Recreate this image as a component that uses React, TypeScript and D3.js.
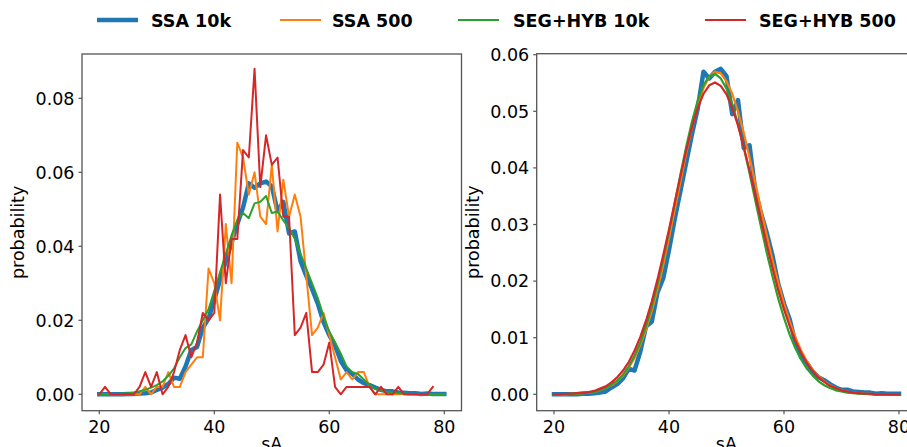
import React from 'react';
import * as d3 from 'd3';

const sA: number[] = d3.range(20, 81);

const ssa10k = [
  0.0000, 0.0000, 0.0000, 0.0000, 0.0000, 0.0001, 0.0001, 0.0002, 0.0003, 0.0005,
  0.0012, 0.0018, 0.0028, 0.0045, 0.0042, 0.0075, 0.0120, 0.0128, 0.0180, 0.0205,
  0.0255, 0.0310, 0.0360, 0.0410, 0.0460, 0.0505, 0.0570, 0.0558, 0.0570, 0.0575,
  0.0562, 0.0495, 0.0520, 0.0435, 0.0440, 0.0360, 0.0320, 0.0285, 0.0245, 0.0195,
  0.0160, 0.0132, 0.0090, 0.0065, 0.0055, 0.0040, 0.0030, 0.0025, 0.0018, 0.0012,
  0.0008, 0.0008, 0.0005, 0.0004, 0.0003, 0.0003, 0.0001, 0.0002, 0.0001, 0.0001,
  0.0001,
];

const ssa500Left = [
  0.000, 0.000, 0.000, 0.000, 0.000, 0.000, 0.000, 0.000, 0.002, 0.000,
  0.002, 0.002, 0.006, 0.002, 0.002, 0.006, 0.008, 0.010, 0.010, 0.034,
  0.030, 0.020, 0.046, 0.030, 0.068, 0.064, 0.054, 0.060, 0.048, 0.046,
  0.062, 0.044, 0.058, 0.048, 0.054, 0.048, 0.032, 0.016, 0.018, 0.022,
  0.016, 0.010, 0.004, 0.006, 0.004, 0.006, 0.006, 0.002, 0.000, 0.000,
  0.000, 0.000, 0.000, 0.000, 0.000, 0.000, 0.000, 0.000, 0.000, 0.000,
  0.000,
];

const segHyb10kLeft = [
  0.0000, 0.0000, 0.0000, 0.0001, 0.0002, 0.0003, 0.0005, 0.0008, 0.0012, 0.0018,
  0.0025, 0.0035, 0.0050, 0.0070, 0.0100, 0.0125, 0.0135, 0.0170, 0.0200, 0.0230,
  0.0280, 0.0330, 0.0380, 0.0430, 0.0470, 0.0490, 0.0476, 0.0516, 0.0520, 0.0536,
  0.0490, 0.0494, 0.0470, 0.0449, 0.0420, 0.0380, 0.0340, 0.0300, 0.0260, 0.0210,
  0.0170, 0.0140, 0.0110, 0.0075, 0.0060, 0.0055, 0.0040, 0.0025, 0.0015, 0.0010,
  0.0007, 0.0005, 0.0003, 0.0002, 0.0001, 0.0001, 0.0001, 0.0001, 0.0001, 0.0001,
  0.0001,
];

const sA500: number[] = d3.range(20, 79);
const segHyb500Left = [
  0.000, 0.002, 0.000, 0.000, 0.000, 0.000, 0.000, 0.002, 0.006, 0.002,
  0.006, 0.000, 0.002, 0.006, 0.012, 0.016, 0.010, 0.014, 0.022, 0.020,
  0.022, 0.054, 0.030, 0.042, 0.042, 0.066, 0.064, 0.088, 0.056, 0.070,
  0.062, 0.064, 0.048, 0.048, 0.016, 0.018, 0.022, 0.006, 0.006, 0.008,
  0.014, 0.002, 0.000, 0.002, 0.002, 0.002, 0.002, 0.002, 0.000, 0.002,
  0.000, 0.000, 0.002, 0.000, 0.000, 0.000, 0.000, 0.000, 0.002,
];

const ssa500Right = [
  0.0000, 0.0000, 0.0000, 0.0001, 0.0001, 0.0002, 0.0003, 0.0004, 0.0007, 0.0011,
  0.0016, 0.0023, 0.0033, 0.0047, 0.0064, 0.0087, 0.0114, 0.0147, 0.0185, 0.0228,
  0.0276, 0.0326, 0.0376, 0.0426, 0.0471, 0.0510, 0.0541, 0.0561, 0.0570, 0.0567,
  0.0553, 0.0531, 0.0500, 0.0462, 0.0419, 0.0374, 0.0327, 0.0281, 0.0237, 0.0197,
  0.0160, 0.0128, 0.0100, 0.0077, 0.0058, 0.0043, 0.0032, 0.0023, 0.0016, 0.0011,
  0.0007, 0.0005, 0.0003, 0.0002, 0.0001, 0.0001, 0.0000, 0.0000, 0.0000, 0.0000,
  0.0000,
];

const segHyb10kRight = [
  0.0000, 0.0000, 0.0000, 0.0001, 0.0001, 0.0002, 0.0003, 0.0004, 0.0007, 0.0011,
  0.0017, 0.0024, 0.0035, 0.0049, 0.0068, 0.0091, 0.0120, 0.0154, 0.0194, 0.0239,
  0.0287, 0.0338, 0.0389, 0.0438, 0.0482, 0.0519, 0.0546, 0.0562, 0.0566, 0.0558,
  0.0540, 0.0513, 0.0477, 0.0436, 0.0391, 0.0343, 0.0296, 0.0250, 0.0208, 0.0169,
  0.0135, 0.0105, 0.0081, 0.0061, 0.0045, 0.0033, 0.0023, 0.0016, 0.0011, 0.0007,
  0.0005, 0.0003, 0.0002, 0.0001, 0.0001, 0.0000, 0.0000, 0.0000, 0.0000, 0.0000,
  0.0000,
];

const segHyb500Right = [
  0.0000, 0.0000, 0.0001, 0.0001, 0.0002, 0.0003, 0.0004, 0.0006, 0.0010, 0.0014,
  0.0021, 0.0030, 0.0042, 0.0057, 0.0077, 0.0101, 0.0130, 0.0164, 0.0203, 0.0246,
  0.0291, 0.0339, 0.0386, 0.0431, 0.0472, 0.0506, 0.0531, 0.0546, 0.0551, 0.0545,
  0.0530, 0.0506, 0.0475, 0.0437, 0.0396, 0.0352, 0.0308, 0.0264, 0.0223, 0.0184,
  0.0150, 0.0120, 0.0094, 0.0073, 0.0055, 0.0041, 0.0030, 0.0022, 0.0015, 0.0011,
  0.0007, 0.0005, 0.0003, 0.0002, 0.0001, 0.0001, 0.0000, 0.0000, 0.0000, 0.0000,
  0.0000,
];

const xTicks = [20, 40, 60, 80];
const leftYTicks = [0, 0.02, 0.04, 0.06, 0.08];
const rightYTicks = [0, 0.01, 0.02, 0.03, 0.04, 0.05, 0.06];
const legendLabels = ['SSA 10k', 'SSA 500', 'SEG+HYB 10k', 'SEG+HYB 500'];
const colors = ['#1f77b4', '#ff7f0e', '#2ca02c', '#d62728'];
const widths = [4.5, 2, 2, 2];

const FONT = 'DejaVu Sans, sans-serif';
const FS = 17.5;
const SPINE = '#555';

type Series = { xs: number[]; ys: number[]; color: string; width: number };

function Panel(props: {
  box: { x0: number; x1: number; y0: number; y1: number };
  xRange: [number, number];
  yDomain: [number, number];
  yRange: [number, number];
  yTicks: number[];
  series: Series[];
  ylabelX: number;
  id: string;
}) {
  const { box, xRange, yDomain, yRange, yTicks, series, ylabelX, id } = props;
  const x = d3.scaleLinear().domain([20, 80]).range(xRange);
  const y = d3.scaleLinear().domain(yDomain).range(yRange);
  const cy = (box.y0 + box.y1) / 2;
  const cx = (box.x0 + box.x1) / 2;
  return (
    <g>
      <defs>
        <clipPath id={id}>
          <rect x={box.x0} y={box.y0} width={box.x1 - box.x0} height={box.y1 - box.y0} />
        </clipPath>
      </defs>
      <g clipPath={`url(#${id})`}>
        {series.map((s, i) => {
          const line = d3
            .line<number>()
            .x((_, j) => x(s.xs[j]))
            .y((v) => y(v));
          return (
            <path
              key={i}
              d={line(s.ys) || ''}
              fill="none"
              stroke={s.color}
              strokeWidth={s.width}
              strokeLinejoin="round"
              strokeLinecap="square"
            />
          );
        })}
      </g>
      <rect
        x={box.x0}
        y={box.y0}
        width={box.x1 - box.x0}
        height={box.y1 - box.y0}
        fill="none"
        stroke={SPINE}
        strokeWidth={1.3}
      />
      {xTicks.map((t) => (
        <g key={t}>
          <line x1={x(t)} x2={x(t)} y1={box.y1} y2={box.y1 + 3.5} stroke={SPINE} strokeWidth={1.2} />
          <text x={x(t)} y={432.7} textAnchor="middle" fontFamily={FONT} fontSize={FS} fill="#000">
            {t}
          </text>
        </g>
      ))}
      {yTicks.map((t) => (
        <g key={t}>
          <line x1={box.x0 - 3.5} x2={box.x0} y1={y(t)} y2={y(t)} stroke={SPINE} strokeWidth={1.2} />
          <text
            x={box.x0 - 7.5}
            y={y(t)}
            dy="0.36em"
            textAnchor="end"
            fontFamily={FONT}
            fontSize={FS}
            fill="#000"
          >
            {t.toFixed(2)}
          </text>
        </g>
      ))}
      <text
        transform={`translate(${ylabelX},${cy}) rotate(-90)`}
        textAnchor="middle"
        dy="0.36em"
        fontFamily={FONT}
        fontSize={FS}
        fill="#000"
      >
        probability
      </text>
      <text x={cx} y={449.5} textAnchor="middle" fontFamily={FONT} fontSize={FS} fill="#000">
        sA
      </text>
    </g>
  );
}

export default function App() {
  const leftSeries: Series[] = [
    { xs: sA, ys: ssa10k, color: colors[0], width: widths[0] },
    { xs: sA, ys: ssa500Left, color: colors[1], width: widths[1] },
    { xs: sA, ys: segHyb10kLeft, color: colors[2], width: widths[2] },
    { xs: sA500, ys: segHyb500Left, color: colors[3], width: widths[3] },
  ];
  const rightSeries: Series[] = [
    { xs: sA, ys: ssa10k, color: colors[0], width: widths[0] },
    { xs: sA, ys: ssa500Right, color: colors[1], width: 2.2 },
    { xs: sA, ys: segHyb10kRight, color: colors[2], width: 2.2 },
    { xs: sA, ys: segHyb500Right, color: colors[3], width: 2.2 },
  ];
  const legendX = [97, 280, 458, 705];
  const legendTextX = [151, 332, 513, 759];
  return (
    <svg
      width={907}
      height={447}
      style={{ position: 'absolute', left: 0, top: 0, background: '#fff' }}
    >
      <rect x={0} y={0} width={907} height={447} fill="#fff" />
      <Panel
        id="clipL"
        box={{ x0: 82, x1: 461.5, y0: 54, y1: 410.7 }}
        xRange={[99.3, 444.3]}
        yDomain={[0, 0.08]}
        yRange={[394.3, 98.3]}
        yTicks={leftYTicks}
        series={leftSeries}
        ylabelX={18}
      />
      <Panel
        id="clipR"
        box={{ x0: 536.7, x1: 916, y0: 53.7, y1: 410.7 }}
        xRange={[554, 899]}
        yDomain={[0, 0.06]}
        yRange={[394.3, 54.7]}
        yTicks={rightYTicks}
        series={rightSeries}
        ylabelX={473}
      />
      {legendLabels.map((l, i) => (
        <g key={l}>
          <line
            x1={legendX[i]}
            x2={legendX[i] + 41}
            y1={20}
            y2={20}
            stroke={colors[i]}
            strokeWidth={i === 0 ? 4.5 : 2.2}
          />
          <text
            x={legendTextX[i]}
            y={26.5}
            fontFamily={FONT}
            fontSize={17.5}
            fontWeight="bold"
            fill="#000"
          >
            {l}
          </text>
        </g>
      ))}
    </svg>
  );
}
